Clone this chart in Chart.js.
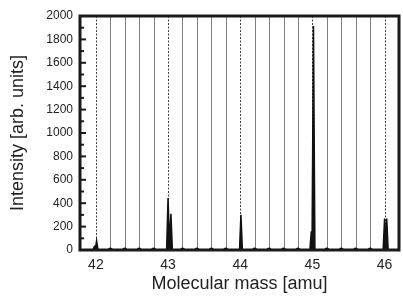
<!DOCTYPE html>
<html>
<head>
<meta charset="utf-8">
<script src="https://cdn.jsdelivr.net/npm/chart.js@4/dist/chart.umd.min.js"></script>
<style>
html,body{margin:0;padding:0;background:#fff;}
#wrap{width:403px;height:297px;}
</style>
</head>
<body>
<div id="wrap"><canvas id="c" width="403" height="297"></canvas></div>
<script>
// Spectrum
const massValues = [41.96, 41.98, 41.995, 42.01, 42.03,
                    42.98, 43.0, 43.02, 43.04, 43.06,
                    43.99, 44.01, 44.03,
                    44.965, 44.985, 44.995, 45.015, 45.035,
                    45.98, 46.0, 46.015, 46.03, 46.05];
const intensityValues = [0, 30, 20, 78, 0,
                         0, 445, 60, 310, 0,
                         0, 300, 0,
                         0, 160, 20, 1915, 0,
                         0, 270, 60, 270, 0];
// grid positions
const gridMasses = [42.0,42.2,42.4,42.6,42.8,43.0,43.2,43.4,43.6,43.8,44.0,44.2,44.4,44.6,44.8,45.0,45.2,45.4,45.6,45.8,46.0];
const baseDotMasses = [42.2,42.4,42.6,42.8,43.2,43.4,43.6,43.8,44.2,44.4,44.6,44.8,45.2,45.4,45.6,45.8];
const xTickLabels = [42, 43, 44, 45, 46];
const yMajorTicks = [0,200,400,600,800,1000,1200,1400,1600,1800,2000];
const yMinorTicks = [100,300,500,700,900,1100,1300,1500,1700,1900];

const spectrum = massValues.map((m,i)=>({x:m, y:intensityValues[i]}));
const dots = baseDotMasses.map(m=>({x:m, y:0}));

const framePlugin = {
  id:'frame',
  beforeDatasetsDraw(chart){
    const {ctx, chartArea:a, scales:{x,y}} = chart;
    ctx.save();
    gridMasses.forEach(m=>{
      const px = Math.round(x.getPixelForValue(m))+0.5;
      const isInt = Math.abs(m-Math.round(m))<1e-6;
      ctx.beginPath();
      ctx.lineWidth = 1;
      if(isInt){ ctx.strokeStyle='#444'; ctx.setLineDash([2,1.5]); }
      else { ctx.strokeStyle='#808080'; ctx.setLineDash([]); }
      ctx.moveTo(px, a.top); ctx.lineTo(px, a.bottom);
      ctx.stroke();
    });
    ctx.restore();
  },
  afterDatasetsDraw(chart){
    const {ctx, chartArea:a, scales:{x,y}} = chart;
    ctx.save();
    ctx.strokeStyle='#1a1a1a';
    ctx.lineWidth=3;
    ctx.setLineDash([]);
    ctx.strokeRect(a.left, a.top, a.right-a.left, a.bottom-a.top);
    ctx.lineWidth=2;
    yMajorTicks.forEach(v=>{
      const py=y.getPixelForValue(v);
      ctx.beginPath(); ctx.moveTo(a.left, py); ctx.lineTo(a.left+6, py); ctx.stroke();
    });
    yMinorTicks.forEach(v=>{
      const py=y.getPixelForValue(v);
      ctx.beginPath(); ctx.moveTo(a.left, py); ctx.lineTo(a.left+4, py); ctx.stroke();
    });
    ctx.restore();
  }
};

new Chart(document.getElementById('c'), {
  type:'scatter',
  data:{
    datasets:[
      {data:spectrum, showLine:true, borderColor:'#111', backgroundColor:'#111', borderWidth:1.5,
       fill:'origin', pointRadius:0, tension:0},
      {data:dots, showLine:false, pointRadius:2.5, pointBackgroundColor:'#111', pointBorderWidth:0, backgroundColor:'#111'}
    ]
  },
  options:{
    responsive:false, animation:false,
    layout:{padding:{left:0,right:2,top:16,bottom:0}},
    plugins:{legend:{display:false}, tooltip:{enabled:false}},
    scales:{
      x:{type:'linear', min:41.78, max:46.2,
        afterBuildTicks(s){ s.ticks = xTickLabels.map(v=>({value:v})); },
        afterFit(s){ s.height=47; },
        grid:{display:false, drawTicks:false},
        border:{display:false},
        ticks:{padding:7, color:'#222', font:{family:'Liberation Sans', size:14}, callback:v=>String(v)},
        title:{display:true, text:'Molecular mass [amu]', color:'#222', font:{family:'Liberation Sans', size:18}, padding:{top:0,bottom:2}}
      },
      y:{min:0, max:2000,
        afterBuildTicks(s){ s.ticks = yMajorTicks.map(v=>({value:v})); },
        afterFit(s){ s.width=80; },
        grid:{display:false, drawTicks:false},
        border:{display:false},
        ticks:{padding:7, color:'#222', font:{family:'Liberation Sans', size:12}, callback:v=>String(v)},
        title:{display:true, text:'Intensity [arb. units]', color:'#222', font:{family:'Liberation Sans', size:18}, padding:{top:7,bottom:0}}
      }
    }
  },
  plugins:[framePlugin]
});
</script>
</body>
</html>
